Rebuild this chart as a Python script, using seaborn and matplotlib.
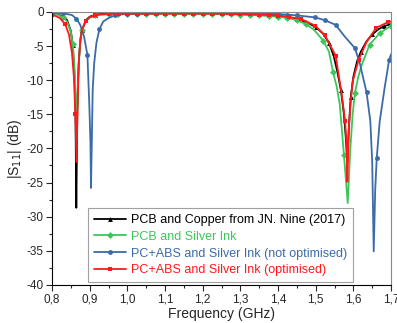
import matplotlib
matplotlib.use("Agg")
import matplotlib.pyplot as plt
from matplotlib.ticker import MultipleLocator, FuncFormatter
import seaborn as sns

# Data (frequency in GHz, |S11| in dB)
f_copper = [0.800, 0.815, 0.830, 0.840, 0.850, 0.855, 0.859, 0.862, 0.8645, 0.867,
            0.869, 0.872, 0.876, 0.880, 0.890, 0.900, 0.915, 0.930, 0.950, 0.975,
            1.000, 1.025, 1.050, 1.075, 1.100, 1.125, 1.150, 1.175, 1.200, 1.225,
            1.250, 1.275, 1.300, 1.325, 1.350, 1.375, 1.400, 1.425, 1.450, 1.475,
            1.500, 1.520, 1.535, 1.548, 1.558, 1.567, 1.575, 1.580, 1.584, 1.588,
            1.593, 1.600, 1.610, 1.620, 1.635, 1.650, 1.665, 1.680, 1.700]
s_copper = [-0.2, -0.35, -0.7, -1.2, -2.8, -4.8, -8.5, -13.0, -28.7, -15.0,
            -10.0, -6.5, -3.8, -2.6, -1.2, -0.7, -0.4, -0.3, -0.2, -0.15,
            -0.1, -0.1, -0.1, -0.1, -0.1, -0.1, -0.1, -0.1, -0.1, -0.1,
            -0.12, -0.15, -0.2, -0.25, -0.3, -0.4, -0.55, -0.75, -1.05, -1.5,
            -2.2, -3.2, -4.5, -6.5, -8.9, -11.5, -15.0, -18.5, -22.0, -17.0,
            -12.5, -9.5, -7.2, -5.8, -4.3, -3.3, -2.6, -2.1, -1.8]

f_silver = [0.800, 0.815, 0.830, 0.840, 0.850, 0.855, 0.860, 0.863, 0.8655, 0.868,
            0.871, 0.875, 0.880, 0.890, 0.900, 0.915, 0.930, 0.950, 0.975,
            1.000, 1.025, 1.050, 1.075, 1.100, 1.125, 1.150, 1.175, 1.200, 1.225,
            1.250, 1.275, 1.300, 1.325, 1.350, 1.375, 1.400,
            1.425, 1.450, 1.475, 1.495, 1.520, 1.535, 1.546, 1.556, 1.564, 1.575,
            1.585, 1.592, 1.598, 1.604, 1.613, 1.622, 1.643, 1.670, 1.692, 1.700]
s_silver = [-0.25, -0.4, -0.8, -1.4, -2.9, -4.7, -8.5, -12.5, -16.4, -12.0,
            -7.5, -4.2, -2.6, -1.3, -0.8, -0.5, -0.4, -0.35, -0.3,
            -0.3, -0.3, -0.3, -0.3, -0.3, -0.3, -0.3, -0.3, -0.3, -0.3,
            -0.32, -0.35, -0.4, -0.45, -0.5, -0.6, -0.7,
            -0.85, -1.2, -1.8, -2.6, -4.2, -5.8, -8.8, -11.0, -13.6, -21.0,
            -28.0, -20.0, -15.0, -11.9, -9.5, -7.8, -4.8, -3.1, -2.3, -2.1]

f_notopt = [0.800, 0.830, 0.853, 0.865, 0.875, 0.885, 0.894, 0.899, 0.902, 0.9035,
            0.906, 0.908, 0.912, 0.918, 0.926, 0.936, 0.950, 0.967, 0.985,
            1.000, 1.025, 1.050, 1.075, 1.100, 1.125, 1.150, 1.175, 1.200, 1.225,
            1.250, 1.275, 1.300, 1.325, 1.350, 1.375, 1.400,
            1.425, 1.450, 1.466, 1.498, 1.524, 1.553, 1.577, 1.604, 1.617, 1.635,
            1.645, 1.650, 1.654, 1.658, 1.662, 1.670, 1.683, 1.695, 1.700]
s_notopt = [-0.05, -0.2, -0.45, -1.0, -1.9, -3.6, -6.3, -13.6, -19.0, -25.8,
            -18.0, -11.4, -7.5, -4.5, -2.5, -1.4, -0.9, -0.5, -0.35,
            -0.3, -0.25, -0.2, -0.2, -0.15, -0.15, -0.15, -0.15, -0.15, -0.15,
            -0.15, -0.15, -0.15, -0.2, -0.2, -0.25, -0.3,
            -0.4, -0.5, -0.6, -0.8, -1.2, -1.9, -3.6, -5.3, -7.5, -11.8,
            -16.0, -22.0, -35.1, -26.0, -21.4, -16.0, -11.1, -7.0, -6.2]

f_opt = [0.800, 0.810, 0.821, 0.835, 0.845, 0.853, 0.858, 0.862, 0.865, 0.868,
         0.871, 0.875, 0.880, 0.890, 0.900, 0.915, 0.930, 0.950, 0.975,
         1.000, 1.025, 1.050, 1.075, 1.100, 1.125, 1.150, 1.175, 1.200, 1.225,
         1.250, 1.275, 1.300, 1.325, 1.350, 1.375, 1.400,
         1.430, 1.460, 1.498, 1.524, 1.553, 1.569, 1.578, 1.582, 1.584, 1.588,
         1.593, 1.598, 1.614, 1.635, 1.661, 1.692, 1.700]
s_opt = [-0.4, -0.6, -0.9, -1.8, -3.3, -6.0, -9.5, -15.0, -22.0, -14.0,
         -7.5, -4.2, -2.6, -1.3, -0.8, -0.5, -0.35, -0.3, -0.25,
         -0.25, -0.25, -0.25, -0.25, -0.25, -0.25, -0.25, -0.25, -0.25, -0.25,
         -0.27, -0.3, -0.32, -0.35, -0.4, -0.45, -0.55,
         -0.75, -1.0, -2.0, -3.4, -6.4, -12.1, -16.0, -19.5, -24.9, -17.0,
         -13.0, -10.2, -7.0, -4.4, -2.3, -1.5, -1.4]

SERIES = [
    ("PCB and Copper from JN. Nine (2017)", f_copper, s_copper, "black", "^"),
    ("PCB and Silver Ink", f_silver, s_silver, "#3cc65a", "D"),
    ("PC+ABS and Silver Ink (not optimised)", f_notopt, s_notopt, "#3b6ba8", "o"),
    ("PC+ABS and Silver Ink (optimised)", f_opt, s_opt, "#ff1a1a", "s"),
]

sns.set_style("ticks")
plt.rcParams['font.family'] = ['Liberation Sans', 'DejaVu Sans']
plt.rcParams['axes.unicode_minus'] = False


def marker_indices(freqs, step=0.025):
    # keep markers roughly evenly spaced along frequency
    idx = [0]
    for i, f in enumerate(freqs):
        if f - freqs[idx[-1]] >= step - 1e-9:
            idx.append(i)
    return idx


def comma(v, pos):
    return f"{v:.1f}".replace('.', ',')


fig = plt.figure(figsize=(3.97, 3.23), dpi=100)
ax = fig.add_axes([0.131, 0.118, 0.854, 0.845])

for label, f, s, color, mk in SERIES:
    assert len(f) == len(s), label
    sns.lineplot(x=f, y=s, ax=ax, color=color, label=label, linewidth=1.3,
                 marker=mk, markersize=3.5, markeredgewidth=0,
                 markevery=marker_indices(f), sort=False)

ax.set_xlim(0.8, 1.7)
ax.set_ylim(-40, 0)
ax.xaxis.set_major_locator(MultipleLocator(0.1))
ax.xaxis.set_minor_locator(MultipleLocator(0.05))
ax.yaxis.set_major_locator(MultipleLocator(5))
ax.yaxis.set_minor_locator(MultipleLocator(2.5))
ax.xaxis.set_major_formatter(FuncFormatter(comma))
ax.tick_params(which='major', direction='out', length=4, width=0.8, labelsize=8.5, pad=2)
ax.tick_params(which='minor', direction='out', length=2, width=0.8)

for side in ['top', 'right']:
    ax.spines[side].set_color('#888888')
for side in ['left', 'bottom']:
    ax.spines[side].set_color('black')

ax.set_xlabel("Frequency (GHz)", fontsize=10, labelpad=1)
ax.set_ylabel("|S$_{11}$| (dB)", fontsize=10, labelpad=2)

leg = ax.legend(loc='lower left', bbox_to_anchor=(0.106, 0.011), fontsize=9,
                frameon=True, fancybox=False, edgecolor='#888888',
                handlelength=2.6, handletextpad=0.4, labelspacing=0.38,
                borderpad=0.45, borderaxespad=0)
leg.get_frame().set_linewidth(0.8)
for text, (_, _, _, color, _) in zip(leg.get_texts(), SERIES):
    text.set_color(color)

fig.savefig("out.png", dpi=100)
